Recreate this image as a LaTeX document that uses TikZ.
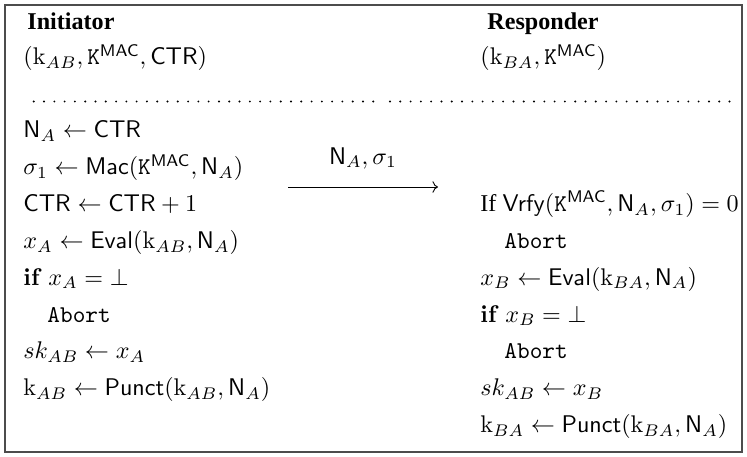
\RequirePackage{fix-cm}
\documentclass[tikz,border=0pt]{standalone}
\usepackage[no-math]{fontspec}
\setmainfont{Liberation Serif}
\usepackage{amsmath}
\usepackage{tikz}
\usetikzlibrary{arrows.meta}

\newcommand{\kmac}{\mathtt{K}^{\mathsf{MAC}}}
\newcommand{\nA}{\mathsf{N}_A}
\newcommand{\ctr}{\mathsf{CTR}}
\newcommand{\kab}{\mathrm{k}_{AB}}
\newcommand{\kba}{\mathrm{k}_{BA}}

\begin{document}
\begin{tikzpicture}[x=0.01575cm, y=-0.01575cm, >=To,
    font=\fontsize{10.8}{13}\selectfont,
    txt/.style={anchor=base west, inner sep=0pt},
    head/.style={txt, font=\fontsize{10.8}{13}\selectfont\bfseries},
    dotline/.style={line width=0.95pt, line cap=round, dash pattern=on 0pt off 4.61pt},
    frame/.style={draw=black!70, line width=0.6pt}]
  \useasboundingbox (0,0) rectangle (747,457);

  % Outer box
  \draw[frame] (5,5) rectangle (742,452);

  % Parties and their keys
  \node[head] (init) at (27,30) {Initiator};
  \node[txt] (initkeys) at (23,65) {$(\kab, \kmac, \ctr)$};
  \node[head] (resp) at (487,30) {Responder};
  \node[txt] (respkeys) at (480,65) {$(\kba, \kmac)$};

  % Separator
  \coordinate (sepL1) at (373.3,101.5);
  \coordinate (sepL2) at (27,101.5);
  \coordinate (sepR1) at (390,101.5);
  \coordinate (sepR2) at (735,101.5);
  \draw[dotline] (sepL1) -- (sepL2);
  \draw[dotline] (sepR1) -- (sepR2);

  % Initiator side
  \node[txt] (a1) at (23,138) {$\nA \leftarrow \ctr$};
  \node[txt] (a2) at (23,174.8) {$\sigma_1 \leftarrow \mathsf{Mac}(\kmac, \nA)$};
  \node[txt] (a3) at (23,211.6) {$\ctr \leftarrow \ctr + 1$};
  \node[txt] (a4) at (23,248.4) {$x_A \leftarrow \mathsf{Eval}(\kab, \nA)$};
  \node[txt] (a5) at (23,285.2) {$\mathbf{if}\ x_A = \bot$};
  \node[txt] (a6) at (47,322) {\texttt{Abort}};
  \node[txt] (a7) at (23,358.8) {$sk_{AB} \leftarrow x_A$};
  \node[txt] (a8) at (23,395.6) {$\kab \leftarrow \mathsf{Punct}(\kab, \nA)$};

  % Message
  \coordinate (msgfrom) at (288,187);
  \coordinate (msgto) at (438,187);
  \draw[->, line width=0.4pt] (msgfrom) -- node[above=8pt, inner sep=0pt] (msg) {$\nA, \sigma_1$} (msgto);

  % Responder side
  \node[txt] (b1) at (480,211.6) {If $\mathsf{Vrfy}(\kmac, \nA, \sigma_1) = 0$};
  \node[txt] (b2) at (504,248.4) {\texttt{Abort}};
  \node[txt] (b3) at (480,285.2) {$x_B \leftarrow \mathsf{Eval}(\kba, \nA)$};
  \node[txt] (b4) at (480,322) {$\mathbf{if}\ x_B = \bot$};
  \node[txt] (b5) at (504,358.8) {\texttt{Abort}};
  \node[txt] (b6) at (480,395.6) {$sk_{AB} \leftarrow x_B$};
  \node[txt] (b7) at (480,432.4) {$\kba \leftarrow \mathsf{Punct}(\kba, \nA)$};
\end{tikzpicture}
\end{document}
